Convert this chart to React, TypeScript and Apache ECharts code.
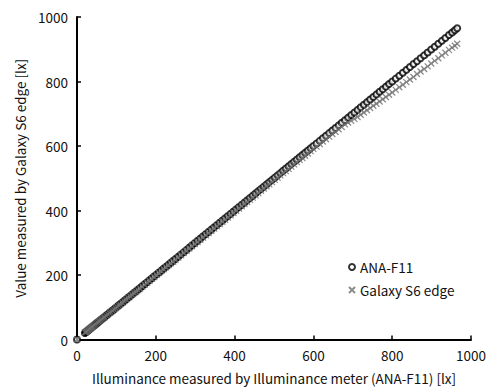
import React, { useEffect, useRef } from "react";
import * as echarts from "echarts";

// Illuminance measured by ANA-F11 [lx] (x, also the ANA-F11 reading)
const illuminance = [
  0, 20, 22, 24, 26, 28, 30, 32, 34, 36,
  38, 40, 43, 46, 49, 52, 55, 58, 61, 64,
  67, 70, 74, 78, 82, 86, 90, 94, 98, 102,
  106, 110, 115, 120, 125, 130, 135, 140, 145, 150,
  155, 160, 166, 172, 178, 184, 190, 196, 202, 208,
  214, 220, 226, 232, 238, 244, 250, 257, 264, 271,
  278, 285, 292, 299, 306, 313, 320, 327, 334, 341,
  348, 355, 362, 369, 376, 383, 390, 397, 404, 411,
  418, 425, 432, 439, 446, 453, 460, 467, 474, 481,
  488, 495, 502, 509, 516, 523, 530, 537, 544, 551,
  558, 565, 572, 579, 586, 593, 600, 608, 616, 624,
  632, 640, 648, 656, 664, 672, 680, 688, 696, 704,
  712, 720, 728, 736, 744, 752, 760, 768, 776, 784,
  792, 800, 809, 818, 827, 836, 845, 854, 863, 872,
  881, 890, 899, 908, 917, 926, 935, 944, 952, 959,
  965,
];

// Galaxy S6 edge readings [lx]
const galaxyValues = [
  0, 22, 23, 25, 27, 29, 31, 33, 35, 37,
  39, 41, 44, 47, 50, 53, 56, 58, 61, 64,
  67, 70, 74, 78, 82, 85, 89, 93, 97, 101,
  105, 109, 114, 119, 124, 129, 134, 139, 144, 148,
  153, 158, 164, 170, 176, 182, 188, 194, 200, 206,
  212, 218, 224, 230, 236, 241, 247, 254, 261, 268,
  275, 282, 289, 296, 302, 309, 316, 323, 330, 337,
  344, 351, 358, 365, 371, 378, 385, 392, 399, 406,
  413, 420, 426, 433, 440, 447, 454, 461, 468, 475,
  481, 488, 495, 502, 509, 516, 522, 529, 536, 543,
  550, 557, 563, 570, 577, 584, 591, 598, 606, 614,
  621, 629, 637, 644, 652, 659, 667, 673, 678, 684,
  690, 697, 704, 711, 718, 725, 731, 738, 745, 752,
  759, 766, 774, 782, 790, 798, 806, 814, 823, 831,
  839, 847, 856, 864, 872, 881, 889, 898, 905, 911,
  917,
];

const seriesNames = ["ANA-F11", "Galaxy S6 edge"];
const axisTicks = [0, 200, 400, 600, 800, 1000];

const FONT = "'Noto Sans CJK JP', 'Noto Sans', sans-serif";
const CROSS = "path://M0,0L10,10M10,0L0,10";

export default function App() {
  const ref = useRef<HTMLDivElement>(null);
  useEffect(() => {
    if (!ref.current) return;
    const chart = echarts.init(ref.current, undefined, { renderer: "svg" });
    const anaData = illuminance.map((v) => [v, v]);
    const galData = illuminance.map((v, i) => [v, galaxyValues[i]]);
    const axisCommon = {
      type: "value" as const,
      min: axisTicks[0],
      max: axisTicks[axisTicks.length - 1],
      interval: 200,
      nameLocation: "middle" as const,
      nameTextStyle: { fontFamily: FONT, fontSize: 13.5, color: "#111" },
      axisLine: { show: true, lineStyle: { color: "#000", width: 2 } },
      axisTick: { show: true, inside: true, length: 4, lineStyle: { color: "#000", width: 1.5 } },
      axisLabel: {
        fontFamily: FONT,
        fontSize: 13.5,
        color: "#111",
        margin: 9,
        formatter: (v: number) => String(v),
      },
      splitLine: { show: false },
    };
    chart.setOption({
      animation: false,
      backgroundColor: "#fff",
      grid: { left: 77, right: 23, top: 17, bottom: 48 },
      xAxis: {
        ...axisCommon,
        name: "Illuminance measured by Illuminance meter (ANA-F11) [lx]",
        nameGap: 32,
      },
      yAxis: {
        ...axisCommon,
        name: "Value measured by Galaxy S6 edge [lx]",
        nameGap: 49,
      },
      legend: {
        orient: "vertical",
        left: 343,
        top: 255,
        itemWidth: 6,
        itemHeight: 6,
        itemGap: 9,
        textStyle: { fontFamily: FONT, fontSize: 13.5, color: "#111", lineHeight: 14 },
        data: seriesNames,
      },
      series: [
        {
          name: seriesNames[0],
          type: "scatter",
          symbol: "emptyCircle",
          symbolSize: 6,
          itemStyle: { color: "#000", borderColor: "#000", borderWidth: 1 },
          data: anaData,
        },
        {
          name: seriesNames[1],
          type: "scatter",
          symbol: CROSS,
          symbolSize: 6,
          itemStyle: { color: "#707070", borderColor: "#707070", borderWidth: 1.3 },
          data: galData,
        },
      ],
    });
    return () => chart.dispose();
  }, []);
  return (
    <div
      ref={ref}
      style={{ position: "fixed", left: 0, top: 0, width: 494, height: 390, background: "#fff" }}
    />
  );
}
